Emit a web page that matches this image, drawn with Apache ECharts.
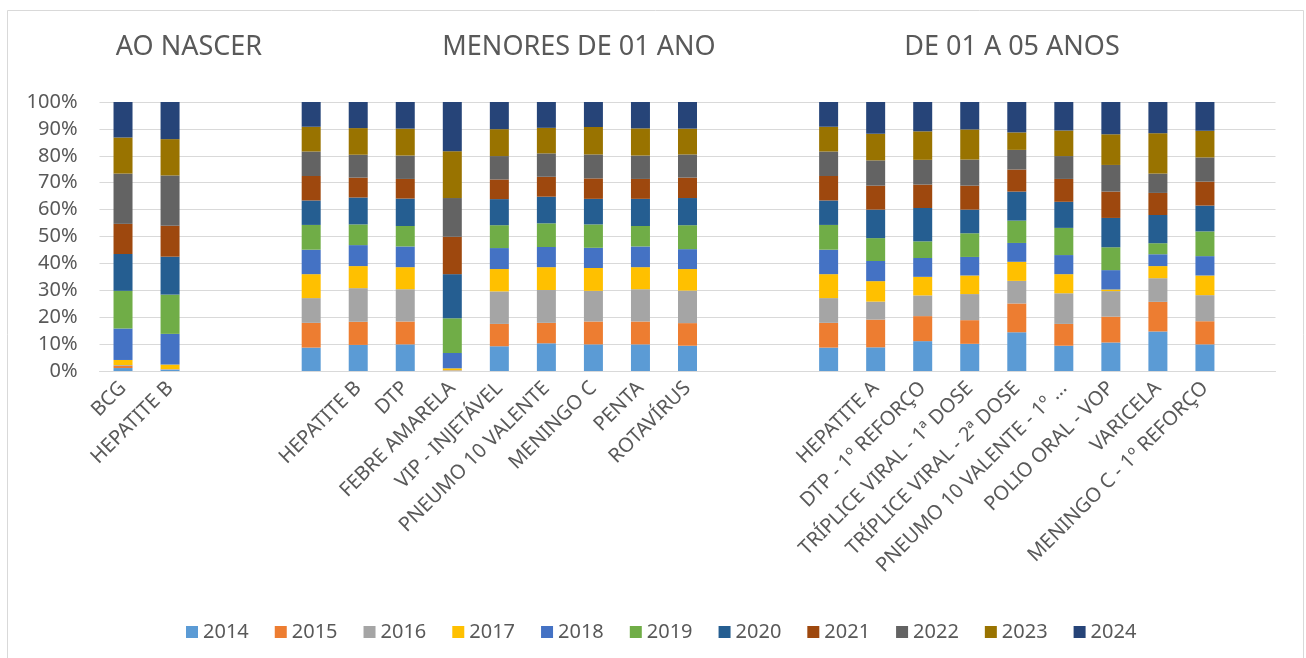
<!DOCTYPE html>
<html>
<head>
  <meta charset="utf-8">
  <title>Vacinas</title>
  <script src="https://cdn.jsdelivr.net/npm/echarts@6/dist/echarts.min.js"></script>
  <style>
    html, body { margin: 0; padding: 0; background: #fff; }
  </style>
</head>
<body>
<div id="main" style="width: 1306px;height:658px;"></div>
<script type="text/javascript">
  // categorias (os vazios separam os grupos)
  var categorias = [
    'BCG', 'HEPATITE B', ' ', '  ', '   ',
    'HEPATITE B', 'DTP', 'FEBRE AMARELA', 'VIP - INJETÁVEL', 'PNEUMO 10 VALENTE',
    'MENINGO C', 'PENTA', 'ROTAVÍRUS', '    ', '     ', '      ',
    'HEPATITE A', 'DTP - 1º REFORÇO', 'TRÍPLICE VIRAL - 1ª DOSE', 'TRÍPLICE VIRAL - 2ª DOSE',
    'PNEUMO 10 VALENTE - 1º ...', 'POLIO ORAL - VOP', 'VARICELA', 'MENINGO C - 1º REFORÇO', '       '
  ];
  var anos = ['2014', '2015', '2016', '2017', '2018', '2019', '2020', '2021', '2022', '2023', '2024'];
  var grupos = ['AO NASCER', 'MENORES DE 01 ANO', 'DE 01 A 05 ANOS'];
  var yTicks = [0, 10, 20, 30, 40, 50, 60, 70, 80, 90, 100];

  // valores por ano (participação, %)
  var v2014 = [1.1, 0.5, null, null, 8.7, 9.7, 9.9, 0.1, 9.2, 10.3, 9.9, 9.9, 9.4, null, null, 8.7, 8.8, 11.1, 10.1, 14.4, 9.4, 10.6, 14.7, 9.9, null];
  var v2015 = [0.8, 0.1, null, null, 9.2, 8.6, 8.5, 0.1, 8.3, 7.6, 8.5, 8.5, 8.4, null, null, 9.2, 10.3, 9.3, 8.8, 10.7, 8.1, 9.6, 11.0, 8.6, null];
  var v2016 = [0.3, 0.1, null, null, 9.2, 12.5, 12.0, 0.1, 12.1, 12.2, 11.4, 12.0, 12.1, null, null, 9.2, 6.7, 7.7, 9.7, 8.4, 11.4, 9.5, 8.8, 9.7, null];
  var v2017 = [1.9, 1.7, null, null, 8.9, 8.2, 8.2, 0.7, 8.3, 8.5, 8.5, 8.2, 8.0, null, null, 8.9, 7.6, 6.9, 6.9, 7.1, 7.1, 0.6, 4.5, 7.3, null];
  var v2018 = [11.7, 11.4, null, null, 9.1, 7.8, 7.7, 5.7, 7.8, 7.5, 7.5, 7.7, 7.4, null, null, 9.1, 7.5, 7.0, 6.9, 7.0, 7.1, 7.2, 4.4, 7.2, null];
  var v2019 = [14.0, 14.6, null, null, 9.2, 7.7, 7.6, 12.9, 8.5, 8.8, 8.7, 7.6, 8.9, null, null, 9.2, 8.5, 6.2, 8.8, 8.3, 10.1, 8.5, 4.1, 9.2, null];
  var v2020 = [13.7, 14.1, null, null, 9.1, 10.0, 10.2, 16.4, 9.7, 9.9, 9.5, 10.1, 10.1, null, null, 9.1, 10.6, 12.4, 8.8, 10.8, 9.7, 10.9, 10.5, 9.6, null];
  var v2021 = [11.2, 11.5, null, null, 9.1, 7.4, 7.3, 13.9, 7.3, 7.4, 7.6, 7.4, 7.6, null, null, 9.1, 8.9, 8.7, 8.9, 8.2, 8.5, 9.8, 8.2, 8.9, null];
  var v2022 = [18.7, 18.7, null, null, 9.1, 8.5, 8.7, 14.4, 8.7, 8.7, 8.9, 8.7, 8.6, null, null, 9.1, 9.4, 9.2, 9.7, 7.3, 8.5, 9.9, 7.2, 9.0, null];
  var v2023 = [13.4, 13.5, null, null, 9.2, 9.9, 10.0, 17.4, 10.0, 9.5, 10.2, 10.1, 9.6, null, null, 9.2, 9.9, 10.6, 11.2, 6.5, 9.5, 11.4, 15.0, 9.9, null];
  var v2024 = [13.2, 13.8, null, null, 9.2, 9.7, 9.9, 18.3, 10.1, 9.6, 9.3, 9.8, 9.9, null, null, 9.2, 11.8, 10.9, 10.2, 11.3, 10.6, 12.0, 11.6, 10.7, null];

  var valores = [v2014, v2015, v2016, v2017, v2018, v2019, v2020, v2021, v2022, v2023, v2024];
  var cores = ['#5B9BD5', '#ED7D31', '#A5A5A5', '#FFC000', '#4472C4', '#70AD47',
               '#255E91', '#9E480E', '#636363', '#997300', '#264478'];

  // 100% empilhado: normaliza cada coluna
  var totais = categorias.map(function (c, i) {
    var s = 0;
    valores.forEach(function (v) { if (v[i] != null) s += v[i]; });
    return s;
  });

  var series = anos.map(function (ano, k) {
    return {
      name: ano,
      type: 'bar',
      stack: 'total',
      barWidth: 19,
      itemStyle: { color: cores[k] },
      data: valores[k].map(function (x, i) {
        return x == null ? null : x / totais[i] * 100;
      })
    };
  });

  var corTexto = '#595959';
  var fonte = '"Noto Sans", "Open Sans", sans-serif';
  var centrosTitulo = [189, 579, 1012];

  var myChart = echarts.init(document.getElementById('main'));

  var option = {
    animation: false,
    backgroundColor: '#ffffff',
    textStyle: { fontFamily: fonte },
    graphic: [
      {
        type: 'rect',
        shape: { x: 7.5, y: 10.5, width: 1296, height: 660 },
        style: { fill: 'none', stroke: '#D9D9D9', lineWidth: 1 },
        silent: true
      }
    ].concat(grupos.map(function (g, i) {
      return {
        type: 'text',
        x: centrosTitulo[i],
        y: 47,
        style: {
          text: g,
          fill: corTexto,
          font: '27px ' + fonte,
          align: 'center',
          verticalAlign: 'middle'
        },
        silent: true
      };
    })),
    legend: {
      data: anos,
      left: 181,
      top: 617,
      itemWidth: 12,
      itemHeight: 12,
      itemGap: 26,
      icon: 'rect',
      textStyle: { color: corTexto, fontSize: 20, fontFamily: fonte }
    },
    grid: {
      left: 99.5,
      right: 30.5,
      top: 102,
      bottom: 287,
      outerBoundsMode: 'none'
    },
    xAxis: {
      type: 'category',
      data: categorias,
      axisLine: { lineStyle: { color: '#D9D9D9' } },
      axisTick: { show: false },
      axisLabel: {
        interval: 0,
        rotate: 45,
        margin: 14,
        color: corTexto,
        fontSize: 20,
        fontFamily: fonte
      }
    },
    yAxis: {
      type: 'value',
      min: yTicks[0],
      max: yTicks[yTicks.length - 1],
      interval: 10,
      axisLine: { show: false },
      axisTick: { show: false },
      splitLine: { lineStyle: { color: '#D9D9D9' } },
      axisLabel: {
        formatter: '{value}%',
        margin: 22,
        color: corTexto,
        fontSize: 20,
        fontFamily: fonte
      }
    },
    series: series
  };

  myChart.setOption(option);
</script>
</body>
</html>
